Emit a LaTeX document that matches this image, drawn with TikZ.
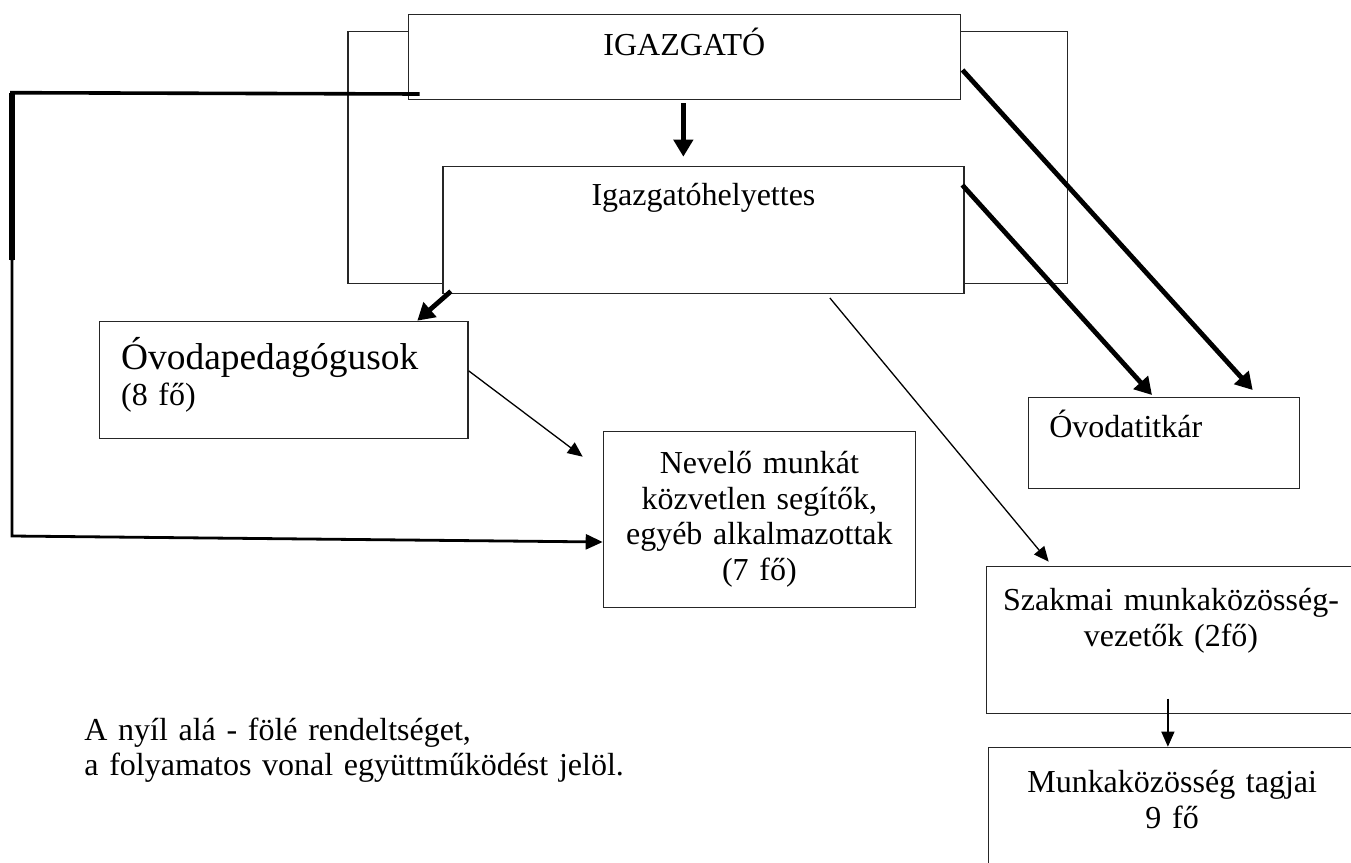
\documentclass[tikz,border=0pt]{standalone}
\usepackage{fontspec}
\setmainfont{Liberation Serif}
\usepackage{tikz}
\usetikzlibrary{arrows.meta,calc}
\newcommand{\orgfont}{\fontsize{16}{17.9}\selectfont}
\newcommand{\bigorgfont}{\fontsize{18.7}{20}\selectfont}
\tikzset{
    orgbox/.style = {rectangle, anchor=north west, inner sep=0pt, draw=black!85, line width=0.65pt, fill=white, font=\orgfont},
    coop/.style = {draw=black!85, line width=0.65pt},
    arrow/.style = {line width=0.65pt, -{Triangle[length=7.5pt,width=6.5pt]}},
    thickarrow/.style = {line width=2.4pt, -{Triangle[length=8.5pt,width=9.5pt]}},
    link/.style = {line width=1.8pt}
}
\begin{document}
\begin{tikzpicture}[x=0.5pt, y=-0.5pt]
\useasboundingbox (0,0) rectangle (1351,863);
\clip (0,0) rectangle (1351,863);

\node (director) [orgbox, text width=276.1pt, text height=20.5pt, text depth=22pt, align=center] at (407.6,14) {IGAZGATÓ};
\node (deputy) [orgbox, text width=260.4pt, text height=19.5pt, text depth=43.85pt, align=center] at (442.4,166) {Igazgatóhelyettes};
\node (teachers) [orgbox, inner xsep=10.7pt, text width=162.75pt, text height=24.15pt, text depth=34.35pt, align=left] at (99.1,320.7) {{\bigorgfont Óvodapedagógusok}\\(8 fő)};
\node (assistants) [orgbox, text width=156pt, text height=20.85pt, text depth=67pt, align=center] at (602.7,431) {Nevelő munkát\\közvetlen segítők,\\egyéb alkalmazottak\\(7 fő)};
\node (secretary) [orgbox, inner xsep=10.35pt, text width=114.65pt, text height=20pt, text depth=25.5pt, align=left] at (1028,396.7) {Óvodatitkár};
\node (leaders) [orgbox, text width=184.65pt, text height=22pt, text depth=51.35pt, align=center] at (985.7,566) {Szakmai munkaközösség-\\vezetők (2fő)};
\node (members) [orgbox, text width=183.5pt, text height=22.65pt, text depth=54pt, align=center] at (988,746.7) {Munkaközösség tagjai\\9 fő};
\node (note) [anchor=base west, inner sep=0pt, text width=290pt, align=left, font=\orgfont] at (84,740) {A nyíl alá - fölé rendeltséget,\\a folyamatos vonal együttműködést jelöl.};

\coordinate (coopleft) at (348,31.5);
\coordinate (coopright) at (1067.5,31.5);
\draw [coop] (director.west |- coopleft) -- (coopleft) |- (deputy.west |- 0,283.3);
\draw [coop] (director.east |- coopright) -- (coopright) |- (deputy.east |- 0,283.3);

\coordinate (linkstart) at ($(director.south west)+(12,-6.3)$);
\coordinate (linkbend) at (12,92.7);
\coordinate (linkmid) at (12,260);
\coordinate (linklow) at (12,536);
\draw [link] (linkstart) -- (linkbend) -- (linkmid);
\draw [line width=3pt] (linkbend) -- (linkmid);
\draw [line width=1.4pt, -{Triangle[length=8.5pt,width=7.5pt]}] (linkmid) -- (linklow) -- (assistants.west |- 0,542);

\draw [thickarrow] ($(director.south)+(-1,2.7)$) -- ($(director.south |- deputy.north)+(-1,-9.3)$);
\draw [thickarrow] ($(deputy.south west)+(8.5,-2.7)$) -- ($(teachers.north east)+(-51.4,0)$);
\draw [thickarrow] ($(deputy.north east)+(-2.2,19)$) -- ($(secretary.north west)+(124,-1.7)$);
\draw [thickarrow] ($(director.north east)+(1.4,56)$) -- ($(secretary.north west)+(224.7,-6.7)$);
\draw [arrow] ($(teachers.east)+(0,-9)$) -- ($(assistants.north west)+(-20,25.7)$);
\draw [arrow] ($(deputy.south east)+(-134.6,4)$) -- ($(leaders.north west)+(63,-4.3)$);
\coordinate (leadstart) at ($(leaders.south west)+(182.2,-15.4)$);
\draw [arrow] (leadstart) -- (leadstart |- members.north);
\end{tikzpicture}
\end{document}
